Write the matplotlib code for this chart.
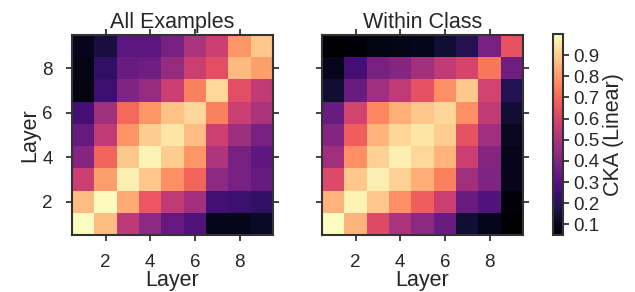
import numpy as np
import matplotlib.pyplot as plt

plt.rcParams['font.family'] = ['Liberation Sans', 'DejaVu Sans']
plt.rcParams['text.color'] = '#262626'
plt.rcParams['axes.labelcolor'] = '#262626'
plt.rcParams['xtick.color'] = '#262626'
plt.rcParams['ytick.color'] = '#262626'

layers = np.arange(1, 10)
titles = ['All Examples', 'Within Class']

# CKA values, rows = layer 1..9 (bottom to top), cols = layer 1..9
cka_all = np.array([
    [1.00, 0.87, 0.54, 0.43, 0.34, 0.29, 0.10, 0.10, 0.12],  # layer 1
    [0.87, 0.99, 0.83, 0.66, 0.55, 0.48, 0.26, 0.24, 0.22],  # layer 2
    [0.57, 0.81, 0.97, 0.89, 0.78, 0.69, 0.43, 0.38, 0.34],  # layer 3
    [0.41, 0.69, 0.89, 0.98, 0.90, 0.79, 0.51, 0.38, 0.32],  # layer 4
    [0.34, 0.55, 0.79, 0.90, 0.95, 0.87, 0.58, 0.47, 0.38],  # layer 5
    [0.26, 0.48, 0.70, 0.79, 0.88, 0.92, 0.75, 0.57, 0.50],  # layer 6
    [0.08, 0.24, 0.40, 0.45, 0.57, 0.75, 0.92, 0.64, 0.55],  # layer 7
    [0.09, 0.22, 0.35, 0.36, 0.45, 0.57, 0.64, 0.86, 0.81],  # layer 8
    [0.10, 0.16, 0.31, 0.31, 0.38, 0.50, 0.57, 0.79, 0.89],  # layer 9
])

cka_within = np.array([
    [1.00, 0.85, 0.62, 0.50, 0.43, 0.35, 0.14, 0.10, 0.05],  # layer 1
    [0.85, 0.98, 0.89, 0.78, 0.68, 0.57, 0.35, 0.29, 0.07],  # layer 2
    [0.62, 0.89, 0.97, 0.91, 0.84, 0.75, 0.48, 0.40, 0.10],  # layer 3
    [0.48, 0.78, 0.91, 0.97, 0.92, 0.85, 0.57, 0.41, 0.10],  # layer 4
    [0.41, 0.68, 0.85, 0.92, 0.95, 0.90, 0.65, 0.48, 0.11],  # layer 5
    [0.35, 0.59, 0.76, 0.84, 0.89, 0.92, 0.78, 0.55, 0.14],  # layer 6
    [0.14, 0.35, 0.48, 0.55, 0.65, 0.78, 0.89, 0.59, 0.19],  # layer 7
    [0.10, 0.26, 0.38, 0.41, 0.48, 0.55, 0.60, 0.73, 0.36],  # layer 8
    [0.05, 0.06, 0.08, 0.09, 0.10, 0.14, 0.19, 0.38, 0.65],  # layer 9
])

vmin, vmax = 0.05, 1.0
cbar_ticks = [0.1, 0.2, 0.3, 0.4, 0.5, 0.6, 0.7, 0.8, 0.9]

fig = plt.figure(figsize=(6.35, 2.92), dpi=100)
W, H = 635, 292
ax_boxes = [(72, 35, 201, 200), (322, 35, 201, 200)]
axes = []
for (x0, y0, w, h) in ax_boxes:
    axes.append(fig.add_axes([x0 / W, 1 - (y0 + h) / H, w / W, h / H]))

for ax, data, title in zip(axes, [cka_all, cka_within], titles):
    im = ax.imshow(data, cmap='magma', vmin=vmin, vmax=vmax, origin='lower',
                   extent=(0.5, 9.5, 0.5, 9.5), aspect='auto', interpolation='nearest')
    ax.set_title(title, fontsize=15.5, pad=5)
    ax.set_xticks([2, 4, 6, 8])
    ax.set_yticks([2, 4, 6, 8])
    ax.tick_params(axis='both', direction='out', length=4, width=1.3, labelsize=13.5,
                   top=True, right=True, color='#333333')
    ax.tick_params(axis='x', pad=10)
    ax.tick_params(axis='y', pad=10)
    for sp in ax.spines.values():
        sp.set_linewidth(1.5)
        sp.set_color('#333333')
    ax.set_xlabel('Layer', fontsize=15.5, labelpad=-1)

axes[0].set_ylabel('Layer', fontsize=15.5, labelpad=1)
axes[1].set_yticklabels([])

cax = fig.add_axes([553 / W, 1 - 235 / H, 9.5 / W, 201 / H])
cb = fig.colorbar(im, cax=cax, ticks=cbar_ticks)
cb.ax.tick_params(labelsize=13.5, length=4, width=1.3, color='#333333', pad=4)
cb.outline.set_linewidth(1.5)
cb.outline.set_edgecolor('#333333')
cb.set_label('CKA (Linear)', fontsize=15.5, labelpad=2)

plt.savefig('out.png', dpi=100)
